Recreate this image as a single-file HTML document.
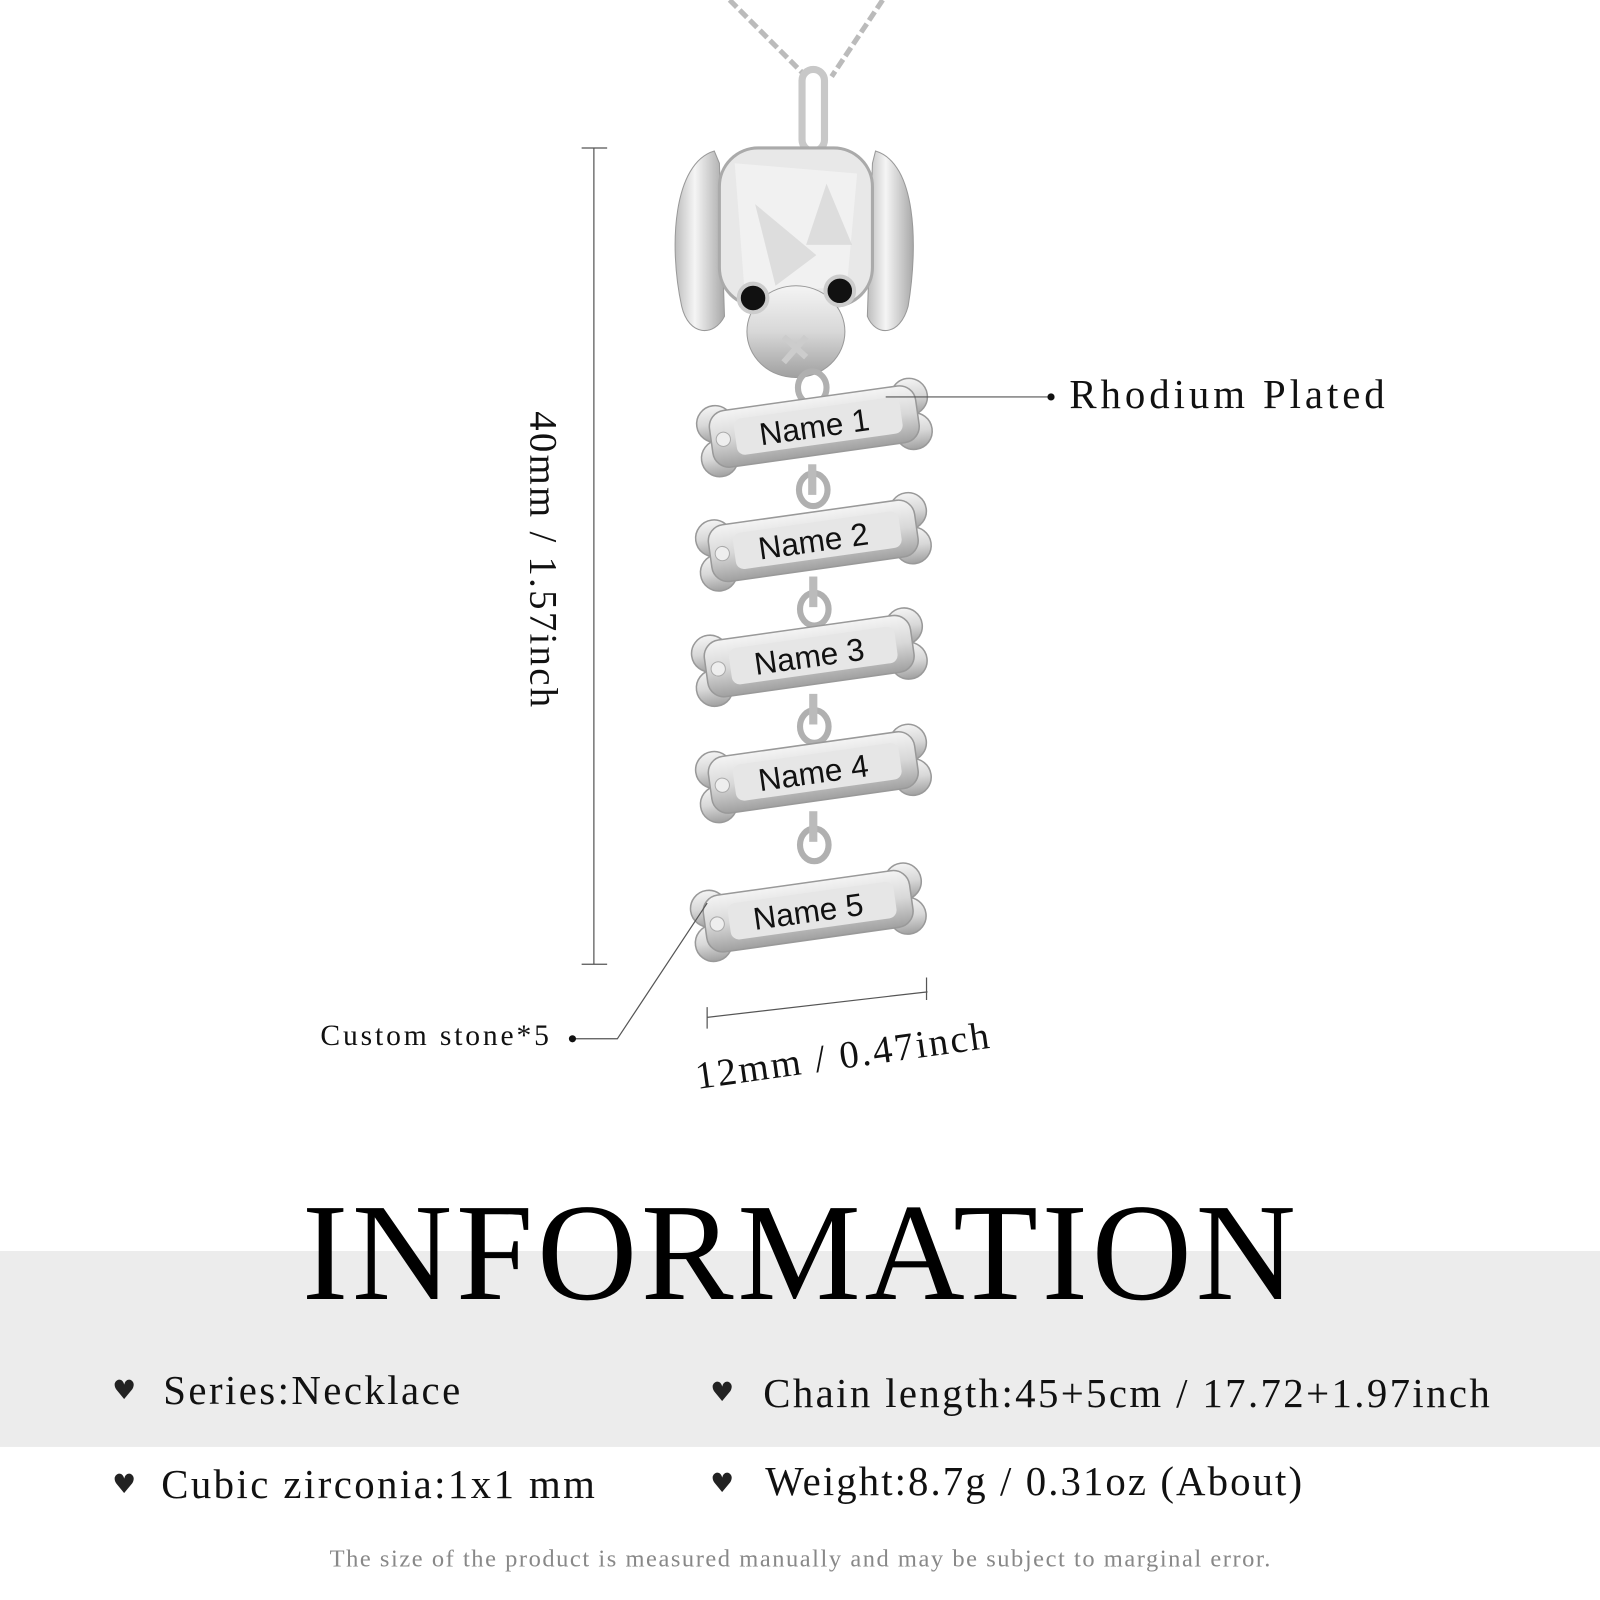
<!DOCTYPE html>
<html><head><meta charset="utf-8"><style>
html,body{margin:0;padding:0;background:#fff}
svg{display:block}
</style></head><body>
<svg width="1600" height="1600" viewBox="0 0 1568 1568" xmlns="http://www.w3.org/2000/svg">
<defs>
<linearGradient id="metal" x1="0" y1="0" x2="0" y2="1">
<stop offset="0" stop-color="#f4f4f4"/><stop offset="0.5" stop-color="#d8d8d8"/><stop offset="1" stop-color="#a0a0a0"/>
</linearGradient>
<linearGradient id="ear" x1="0" y1="0" x2="1" y2="0">
<stop offset="0" stop-color="#bdbdbd"/><stop offset="0.4" stop-color="#f5f5f5"/><stop offset="1" stop-color="#a8a8a8"/>
</linearGradient>
<g id="bone">
<circle cx="-96" cy="-16" r="18" fill="url(#metal)" stroke="#999" stroke-width="1.5"/>
<circle cx="-96" cy="18" r="18" fill="url(#metal)" stroke="#999" stroke-width="1.5"/>
<circle cx="96" cy="-16" r="18" fill="url(#metal)" stroke="#999" stroke-width="1.5"/>
<circle cx="96" cy="18" r="18" fill="url(#metal)" stroke="#999" stroke-width="1.5"/>
<rect x="-102" y="-28" width="204" height="56" rx="16" fill="url(#metal)" stroke="#999" stroke-width="1.5"/>
<rect x="-78" y="-18" width="164" height="36" rx="8" fill="#e6e6e6"/>
<circle cx="-90" cy="0" r="7" fill="#eee" stroke="#aaa"/>
</g>
<g id="link"><ellipse cx="0" cy="0" rx="14" ry="16" fill="none" stroke="#b0b0b0" stroke-width="6"/></g>
</defs>
<rect width="1568" height="1568" fill="#fff"/>
<path d="M715 0 L790 75 M865 0 L815 75" stroke="#bbb" stroke-width="5" fill="none" stroke-dasharray="10 4"/>
<rect x="786" y="68" width="22" height="80" rx="11" fill="none" stroke="#c8c8c8" stroke-width="7"/>
<path d="M700 148 C660 160 655 240 668 300 C675 330 700 330 710 310 L705 160 Z" fill="url(#ear)" stroke="#999"/>
<path d="M858 148 C898 160 900 240 890 300 C882 330 858 330 850 310 L855 160 Z" fill="url(#ear)" stroke="#999"/>
<rect x="705" y="145" width="150" height="155" rx="38" fill="#e8e8e8" stroke="#aaa" stroke-width="3"/>
<path d="M720 160 L840 170 L830 280 L730 290 Z" fill="#f3f3f3" opacity="0.8"/>
<path d="M740 200 L800 250 L760 280 Z M810 180 L835 240 L790 240Z" fill="#d0d0d0" opacity="0.6"/>
<ellipse cx="780" cy="325" rx="48" ry="45" fill="url(#metal)" stroke="#999"/>
<circle cx="738" cy="292" r="14" fill="#111" stroke="#ccc" stroke-width="4"/>
<circle cx="823" cy="285" r="14" fill="#111" stroke="#ccc" stroke-width="4"/>
<path d="M768 330 L790 350 M790 330 L768 355" stroke="#ccc" stroke-width="6"/>
<use href="#link" x="796" y="380"/>
<use href="#link" x="797" y="480"/><rect x="792" y="455" width="8" height="30" fill="#bbb"/>
<use href="#link" x="798" y="597"/><rect x="793" y="565" width="8" height="30" fill="#bbb"/>
<use href="#link" x="798" y="712"/><rect x="793" y="680" width="8" height="30" fill="#bbb"/>
<use href="#link" x="798" y="828"/><rect x="793" y="795" width="8" height="30" fill="#bbb"/>
<g font-family="Liberation Sans, sans-serif" font-size="31" fill="#111">
<g transform="translate(798,418) rotate(-8)"><use href="#bone"/><text x="0" y="11" text-anchor="middle">Name 1</text></g>
<g transform="translate(797,530) rotate(-8)"><use href="#bone"/><text x="0" y="11" text-anchor="middle">Name 2</text></g>
<g transform="translate(793,643) rotate(-8)"><use href="#bone"/><text x="0" y="11" text-anchor="middle">Name 3</text></g>
<g transform="translate(797,757) rotate(-8)"><use href="#bone"/><text x="0" y="11" text-anchor="middle">Name 4</text></g>
<g transform="translate(792,893) rotate(-8)"><use href="#bone"/><text x="0" y="11" text-anchor="middle">Name 5</text></g>
</g>
<g stroke="#555" stroke-width="1.2" fill="none">
<path d="M582 145 V945 M570 145 H595 M570 945 H595"/>
<path d="M693 997 L909 972 M693 987 V1008 M908 958 V980"/>
<path d="M868 389 H1030"/>
<path d="M693 885 L605 1018 H562"/>
</g>
<circle cx="1030" cy="389" r="3.5" fill="#111"/>
<circle cx="561" cy="1018" r="3.5" fill="#111"/>
<g font-family="Liberation Serif, serif" fill="#111">
<text x="1048" y="400" font-size="40" textLength="309" lengthAdjust="spacing">Rhodium Plated</text>
<text x="314" y="1024" font-size="29" textLength="224" lengthAdjust="spacing">Custom stone*5</text>
<text transform="translate(520,548) rotate(90)" font-size="38" text-anchor="middle" textLength="290" lengthAdjust="spacing">40mm / 1.57inch</text>
<text transform="translate(827,1047) rotate(-8)" font-size="38" text-anchor="middle" textLength="290" lengthAdjust="spacing">12mm / 0.47inch</text>
</g>
<rect x="0" y="1226" width="1568" height="192" fill="#ececec"/>
<text x="296" y="1273" font-family="Liberation Serif, serif" font-size="136" textLength="974" lengthAdjust="spacing" fill="#000">INFORMATION</text>
<g font-family="Liberation Serif, serif" font-size="40" fill="#111">
<text x="160" y="1376" textLength="291" lengthAdjust="spacing">Series:Necklace</text>
<text x="748" y="1379" textLength="712" lengthAdjust="spacing">Chain length:45+5cm / 17.72+1.97inch</text>
<text x="158" y="1468" textLength="425" lengthAdjust="spacing">Cubic zirconia:1x1 mm</text>
<text x="750" y="1465" textLength="526" lengthAdjust="spacing">Weight:8.7g / 0.31oz (About)</text>
</g>
<g fill="#222" font-size="26" font-family="DejaVu Sans, sans-serif">
<text x="110" y="1371">♥</text><text x="696" y="1373">♥</text>
<text x="110" y="1463">♥</text><text x="696" y="1462">♥</text>
</g>
<text x="323" y="1535" font-family="Liberation Serif, serif" font-size="24" fill="#888" textLength="922" lengthAdjust="spacing">The size of the product is measured manually and may be subject to marginal error.</text>
</svg>
</body></html>
